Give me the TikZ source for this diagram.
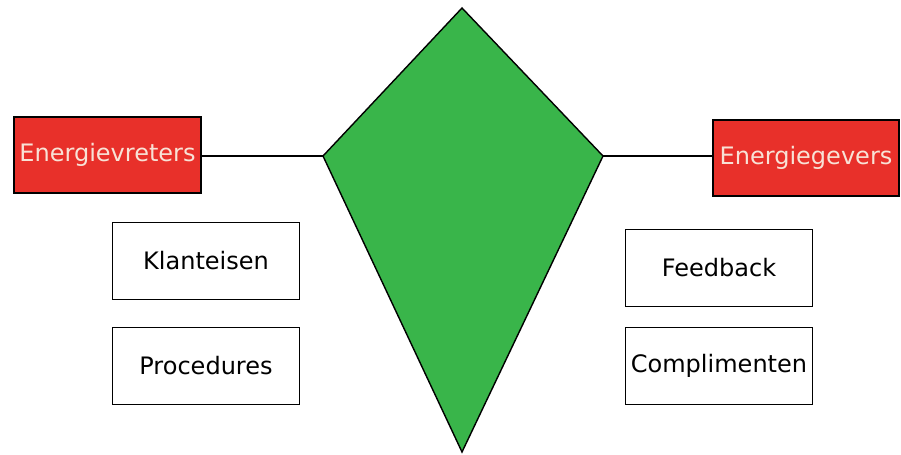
\documentclass[tikz,border=0pt]{standalone}
\usepackage{fontspec}
\setmainfont{DejaVu Sans}
\usetikzlibrary{positioning}

\definecolor{vreetrood}{RGB}{232,48,42}
\definecolor{vliegergroen}{RGB}{57,181,74}
\definecolor{lichttekst}{RGB}{248,226,214}

\begin{document}
\begin{tikzpicture}[
  x=0.03cm, y=-0.03cm,
  rood/.style={draw, line width=1.6pt, fill=vreetrood, text=lichttekst, minimum width=5.6cm, minimum height=2.3cm, inner sep=0pt, font=\fontsize{20.5}{24}\selectfont},
  wit/.style={draw, line width=1.4pt, fill=white, minimum width=5.6cm, minimum height=2.3cm, inner sep=0pt, font=\fontsize{20.5}{24}\selectfont},
  lijn/.style={line width=1.2pt},
]
\useasboundingbox (0,0) rectangle (901,455);
% --- kite ---
\coordinate (top) at (462,8);
\coordinate (links) at (323,156);
\coordinate (rechts) at (603,156);
\coordinate (punt) at (462,452);
\draw[lijn, fill=vliegergroen, line join=miter] (top) -- (rechts) -- (punt) -- (links) -- cycle;
% --- red boxes ---
\node[rood] (vreters) at (107.5,155) {Energievreters};
\node[rood] (gevers) at (806,158) {Energiegevers};
\draw[lijn] (vreters.east |- links) -- (links);
\draw[lijn] (rechts) -- (gevers.west |- rechts);
% --- left column ---
\node[wit] (klant) at (206,261) {Klanteisen};
\node[wit] (proc) at (206,366) {Procedures};
% --- right column ---
\node[wit] (feed) at (719,268) {Feedback};
\node[wit] (compl) at (719,366) {Complimenten};
\end{tikzpicture}
\end{document}
